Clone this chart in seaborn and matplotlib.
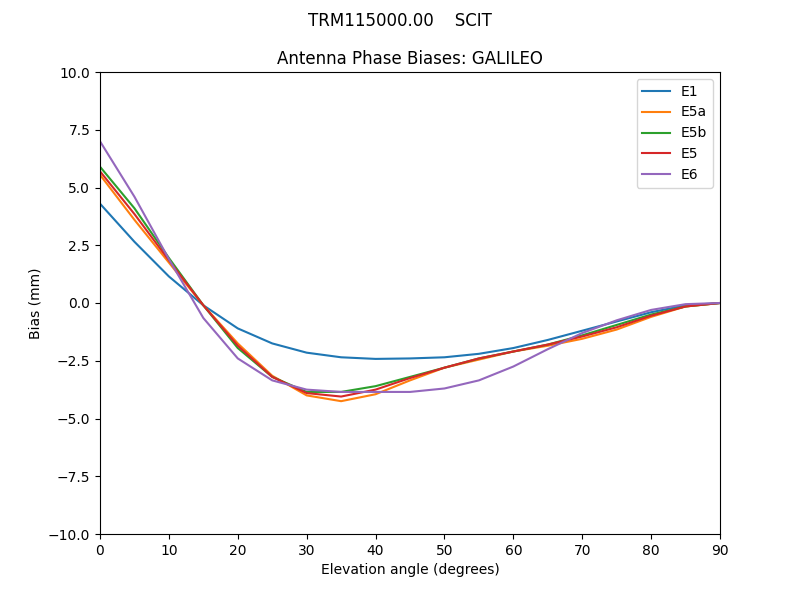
import matplotlib
matplotlib.use("Agg")
import matplotlib.pyplot as plt
import seaborn as sns
import pandas as pd
import numpy as np

elevation = [0, 5, 10, 15, 20, 25, 30, 35, 40, 45, 50, 55, 60, 65, 70, 75, 80, 85, 90]
e1 = [4.3, 2.65, 1.15, -0.1, -1.1, -1.75, -2.15, -2.35, -2.42, -2.4, -2.35, -2.2, -1.95, -1.6, -1.2, -0.8, -0.4, -0.1, 0.0]
e5a = [5.55, 3.6, 1.75, -0.1, -1.75, -3.15, -4.0, -4.25, -3.95, -3.35, -2.8, -2.45, -2.1, -1.85, -1.55, -1.15, -0.6, -0.15, 0.0]
e5b = [5.9, 4.1, 1.95, -0.1, -1.95, -3.2, -3.85, -3.85, -3.6, -3.2, -2.8, -2.4, -2.1, -1.8, -1.4, -0.95, -0.5, -0.15, 0.0]
e5 = [5.7, 3.85, 1.85, -0.1, -1.85, -3.2, -3.9, -4.05, -3.75, -3.25, -2.8, -2.4, -2.1, -1.8, -1.45, -1.05, -0.55, -0.15, 0.0]
e6 = [7.0, 4.6, 1.9, -0.65, -2.4, -3.35, -3.75, -3.85, -3.85, -3.85, -3.7, -3.35, -2.75, -2.0, -1.3, -0.75, -0.3, -0.05, 0.0]
signals = ["E1", "E5a", "E5b", "E5", "E6"]
series = [e1, e5a, e5b, e5, e6]

rows = []
for name, vals in zip(signals, series):
    for x, y in zip(elevation, vals):
        rows.append({"elev": x, "bias": y, "signal": name})
df = pd.DataFrame(rows)

fig, ax = plt.subplots(figsize=(8, 6), dpi=100)
palette = ["#1f77b4", "#ff7f0e", "#2ca02c", "#d62728", "#9467bd"]
sns.lineplot(data=df, x="elev", y="bias", hue="signal", hue_order=signals,
             palette=palette, ax=ax, linewidth=1.5)
ax.set_xlim(0, 90)
ax.set_ylim(-10, 10)
ax.set_xlabel("Elevation angle (degrees)")
ax.set_ylabel("Bias (mm)")
ax.set_title("Antenna Phase Biases: GALILEO")
fig.suptitle("TRM115000.00    SCIT")
ax.legend(loc="upper right")
fig.savefig("out.png", dpi=100)
